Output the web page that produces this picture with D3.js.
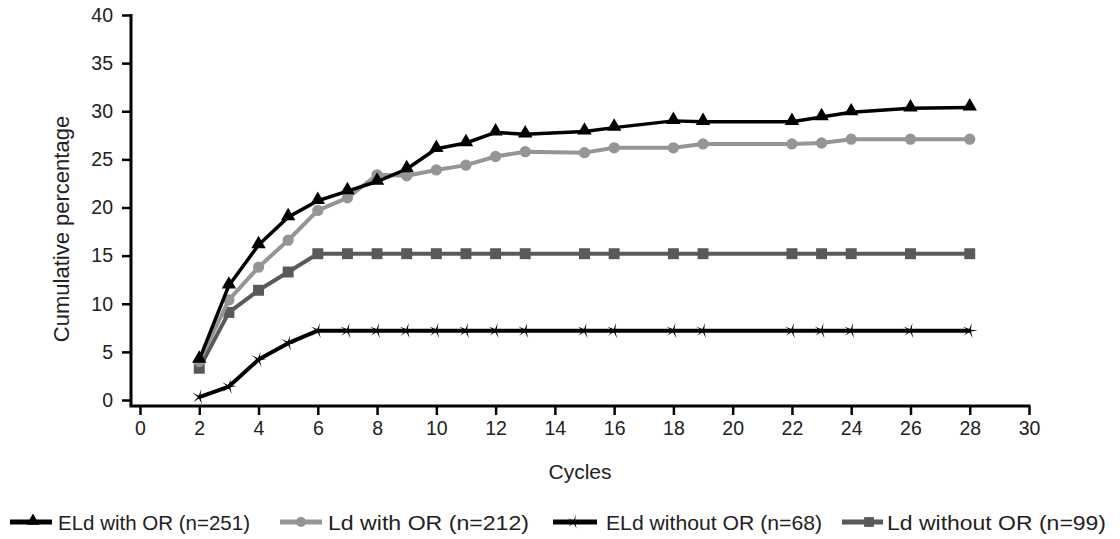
<!DOCTYPE html>
<html>
<head>
<meta charset="utf-8">
<script src="https://cdn.jsdelivr.net/npm/d3@7"></script>
<style>
  html, body { margin: 0; padding: 0; background: #fff; }
  svg { display: block; font-family: "Liberation Sans", Arial, Helvetica, sans-serif; }
</style>
</head>
<body>
<svg id="chart" width="1120" height="539"></svg>
<script>
// ---- data ----
const cycles = [2, 3, 4, 5, 6, 7, 8, 9, 10, 11, 12, 13, 15, 16, 18, 19, 22, 23, 24, 26, 28];
const eldWithOR    = [4.2, 11.9, 16.1, 19.0, 20.7, 21.7, 22.7, 24.0, 26.1, 26.7, 27.8, 27.6, 27.9, 28.3, 29.0, 28.9, 28.9, 29.4, 29.9, 30.3, 30.4];
const ldWithOR     = [4.0, 10.4, 13.8, 16.6, 19.7, 21.0, 23.4, 23.3, 23.9, 24.4, 25.3, 25.8, 25.7, 26.2, 26.2, 26.6, 26.6, 26.7, 27.1, 27.1, 27.1];
const eldWithoutOR = [0.3, 1.4, 4.2, 5.9, 7.2, 7.2, 7.2, 7.2, 7.2, 7.2, 7.2, 7.2, 7.2, 7.2, 7.2, 7.2, 7.2, 7.2, 7.2, 7.2, 7.2];
const ldWithoutOR  = [3.3, 9.1, 11.4, 13.3, 15.2, 15.2, 15.2, 15.2, 15.2, 15.2, 15.2, 15.2, 15.2, 15.2, 15.2, 15.2, 15.2, 15.2, 15.2, 15.2, 15.2];
const seriesNames = ["ELd with OR (n=251)", "Ld with OR (n=212)", "ELd without OR (n=68)", "Ld without OR (n=99)"];
const xTicks = [0, 2, 4, 6, 8, 10, 12, 14, 16, 18, 20, 22, 24, 26, 28, 30];
const yTicks = [0, 5, 10, 15, 20, 25, 30, 35, 40];
const xTitle = "Cycles";
const yTitle = "Cumulative percentage";

// ---- layout ----
const svg = d3.select("#chart");
const x = d3.scaleLinear().domain([0, 30]).range([140, 1029]);
const y = d3.scaleLinear().domain([0, 40]).range([400, 15]);
const axisY0 = 406, axisX0 = 131;

// thin star symbol
const thinStar = {
  draw(ctx, size) {
    const r = Math.sqrt(size) * 0.9, ri = r * 0.18;
    for (let i = 0; i < 10; i++) {
      const a = -Math.PI / 2 + i * Math.PI / 5 + 0.25;
      const rr = i % 2 === 0 ? r : ri;
      const px = Math.cos(a) * rr, py = Math.sin(a) * rr;
      if (i === 0) ctx.moveTo(px, py); else ctx.lineTo(px, py);
    }
    ctx.closePath();
  }
};

const series = [
  { name: seriesNames[0], values: eldWithOR,    color: "#000000", width: 3.5, symbol: d3.symbolTriangle, size: 90, dy: -1 },
  { name: seriesNames[1], values: ldWithOR,     color: "#939598", width: 4,   symbol: d3.symbolCircle,   size: 100, dy: 0 },
  { name: seriesNames[2], values: eldWithoutOR, color: "#000000", width: 4,   symbol: thinStar,          size: 80, dy: 0 },
  { name: seriesNames[3], values: ldWithoutOR,  color: "#58595b", width: 4,   symbol: d3.symbolSquare,   size: 120, dy: 0 }
];

// axes
const gx = svg.append("g").attr("transform", `translate(0,${axisY0})`)
  .call(d3.axisBottom(x).tickValues(xTicks).tickSize(9).tickSizeOuter(0).tickPadding(6));
gx.select(".domain").remove();
gx.selectAll(".tick line").attr("stroke", "#000").attr("stroke-width", 2.5);
gx.selectAll(".tick text").attr("font-size", 19.5).attr("fill", "#222")
  .attr("font-family", "'Liberation Sans', Arial, sans-serif");

const gy = svg.append("g").attr("transform", `translate(${axisX0},0)`)
  .call(d3.axisLeft(y).tickValues(yTicks).tickSize(9).tickSizeOuter(0).tickPadding(9));
gy.select(".domain").remove();
gy.selectAll(".tick line").attr("stroke", "#000").attr("stroke-width", 2.5);
gy.selectAll(".tick text").attr("font-size", 19.5).attr("fill", "#222")
  .attr("font-family", "'Liberation Sans', Arial, sans-serif");

svg.append("line").attr("x1", axisX0 - 1.5).attr("x2", x(30) + 1.5).attr("y1", axisY0).attr("y2", axisY0)
  .attr("stroke", "#000").attr("stroke-width", 3);
svg.append("line").attr("x1", axisX0).attr("x2", axisX0).attr("y1", y(40) - 1).attr("y2", axisY0)
  .attr("stroke", "#000").attr("stroke-width", 3);

svg.append("text").attr("x", 580).attr("y", 479).attr("text-anchor", "middle")
  .attr("font-size", 21).attr("fill", "#222").text(xTitle);
svg.append("text").attr("transform", `translate(69,229) rotate(-90)`).attr("text-anchor", "middle")
  .attr("font-size", 22).attr("fill", "#222").text(yTitle);

// lines + markers
const line = d3.line().x(d => x(d[0])).y(d => y(d[1]));
const drawOrder = [3, 2, 1, 0];
drawOrder.forEach(i => {
  const s = series[i];
  const pts = cycles.map((c, j) => [c, s.values[j]]);
  svg.append("path").datum(pts).attr("d", line).attr("fill", "none")
    .attr("stroke", s.color).attr("stroke-width", s.width).attr("stroke-linejoin", "round");
  svg.append("g").selectAll("path").data(pts).join("path")
    .attr("transform", d => `translate(${x(d[0])},${y(d[1]) + s.dy})`)
    .attr("d", d3.symbol().type(s.symbol).size(s.size))
    .attr("fill", s.color);
});

// legend
const legendItems = [
  { lx1: 10, lx2: 52, mx: 33, tx: 58, tw: 192 },
  { lx1: 280, lx2: 322, mx: 301, tx: 328, tw: 201 },
  { lx1: 553, lx2: 597, mx: 574, tx: 606, tw: 216 },
  { lx1: 842, lx2: 883, mx: 869, tx: 887, tw: 219 }
];
const ly = 522;
legendItems.forEach((p, i) => {
  const s = series[i];
  const g = svg.append("g");
  g.append("line").attr("x1", p.lx1).attr("x2", p.lx2).attr("y1", ly).attr("y2", ly)
    .attr("stroke", s.color).attr("stroke-width", 5);
  g.append("path").attr("transform", `translate(${p.mx},${ly + s.dy})`)
    .attr("d", d3.symbol().type(s.symbol).size(s.size * 0.8)).attr("fill", s.color);
  g.append("text").attr("x", p.tx).attr("y", ly + 7.5).attr("font-size", 21).attr("fill", "#222")
    .attr("textLength", p.tw).attr("lengthAdjust", "spacingAndGlyphs")
    .text(s.name);
});
</script>
</body>
</html>
